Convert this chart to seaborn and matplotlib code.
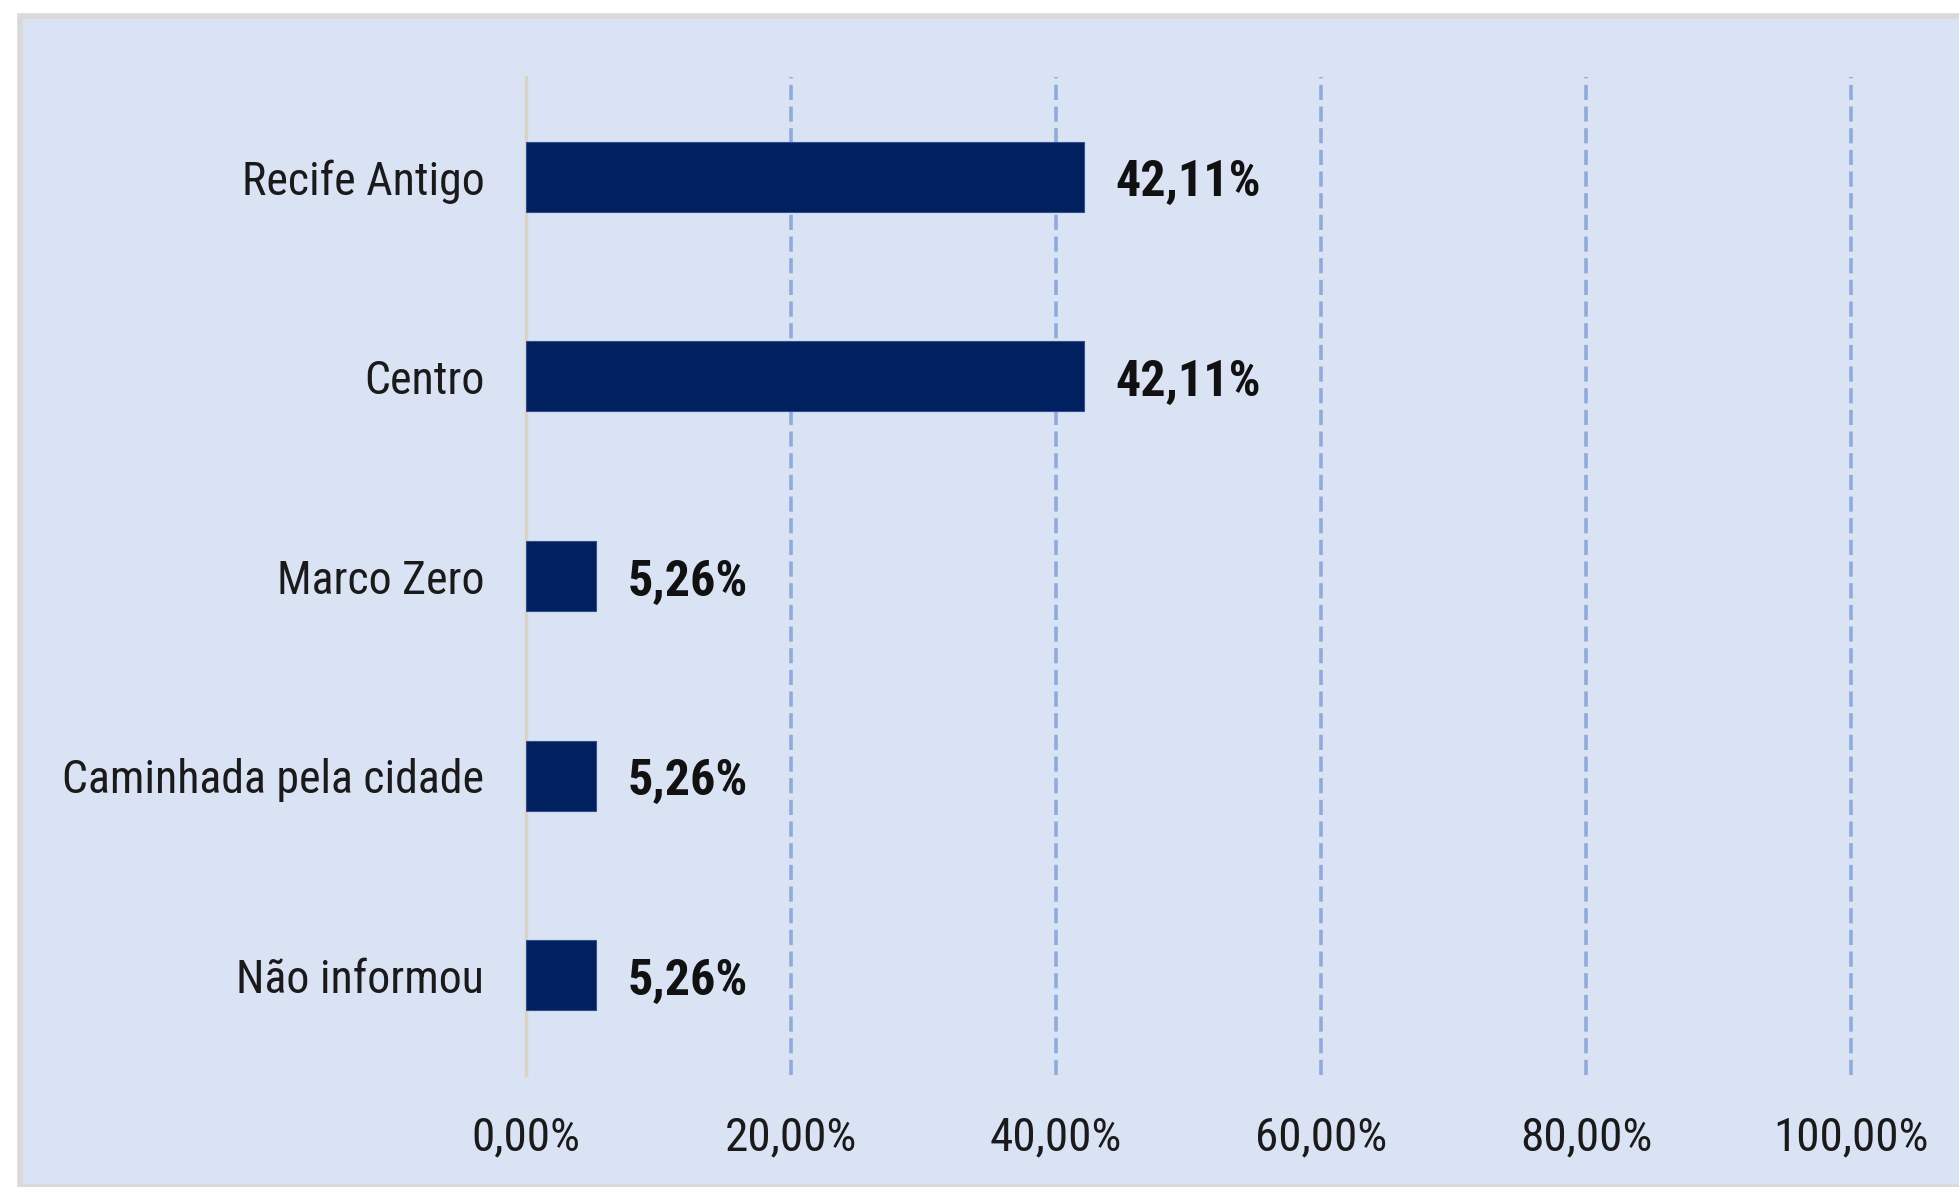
import matplotlib
matplotlib.use("Agg")
import matplotlib.pyplot as plt
from matplotlib import font_manager
from matplotlib.patches import Rectangle
import seaborn as sns
import pandas as pd

categories = ["Recife Antigo", "Centro", "Marco Zero", "Caminhada pela cidade", "Não informou"]
values = [42.11, 42.11, 5.26, 5.26, 5.26]
xticks = [0, 20, 40, 60, 80, 100]
tick_labels = ["0,00%", "20,00%", "40,00%", "60,00%", "80,00%", "100,00%"]

sns.set_theme(style="white")
avail = {f.name for f in font_manager.fontManager.ttflist}
family = None
for cand in ["Liberation Sans Narrow", "Roboto Condensed", "Liberation Sans"]:
    if cand in avail:
        family = cand
        break
plt.rcParams["font.family"] = [family, "DejaVu Sans"]

W, H = 1959, 1187
fig = plt.figure(figsize=(W / 100, H / 100), dpi=100)
fig.patch.set_facecolor("white")
fig.patches.append(Rectangle((20 / W, 0), 1.0, 1 - 16 / H, transform=fig.transFigure,
                             facecolor="#DAE3F3", edgecolor="#D9D9D9", linewidth=4, zorder=-5))

ax = fig.add_axes([526 / W, 1 - 1075 / H, (1851 - 526) / W, (1075 - 77) / H])
ax.set_zorder(5)
ax.set_facecolor("none")
df = pd.DataFrame({"cat": categories, "val": values})
sns.barplot(data=df, y="cat", x="val", orient="h", color="#002060", width=0.35,
            saturation=1, edgecolor="#2F4F8F", linewidth=0.8, ax=ax, zorder=3)
ax.set_xlim(0, 100)
ax.set_ylim(4.5, -0.5)
ax.set_xticks(xticks)
ax.set_xticklabels(tick_labels, fontsize=34, color="#1A1A1A")
ax.set_xlabel("")
ax.set_ylabel("")
ax.tick_params(axis="y", labelsize=33, colors="#1A1A1A", pad=30, length=0)
ax.tick_params(axis="x", pad=29, length=0)
for s in ["top", "right", "bottom"]:
    ax.spines[s].set_visible(False)
ax.spines["left"].set_color("#D9D3C7")
ax.spines["left"].set_linewidth(2.5)
for xv in xticks[1:]:
    ax.axvline(xv, color="#8FAADC", linewidth=2.6, linestyle=(0, (4.2, 1.8)),
               zorder=1, clip_on=False)
for i, v in enumerate(values):
    ax.text(v + 2.4, i + 0.03, f"{v:.2f}".replace(".", ",") + "%", fontsize=36,
            fontweight="bold", va="center", ha="left", color="#111111")

fig.savefig("out.png", dpi=100, facecolor="white")
